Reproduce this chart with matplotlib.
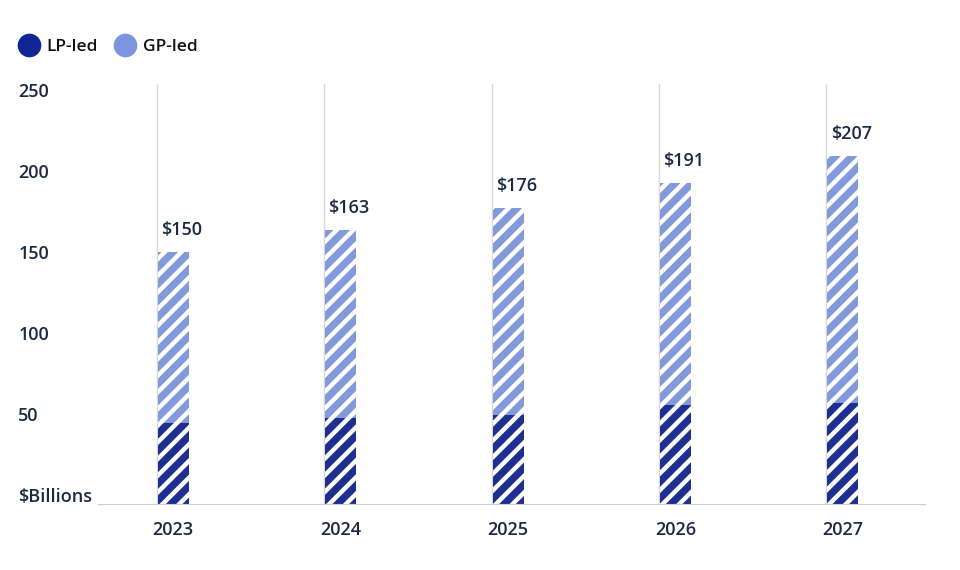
import matplotlib.pyplot as plt
from matplotlib.lines import Line2D
import matplotlib.transforms as mtransforms

plt.rcParams['font.family'] = ['Open Sans', 'DejaVu Sans']
plt.rcParams['hatch.linewidth'] = 3.2

years = ["2023", "2024", "2025", "2026", "2027"]
lp_led = [48, 51, 53, 59, 60]
gp_led = [102, 112, 123, 132, 147]
totals = [150, 163, 176, 191, 207]
yticks = [0, 50, 100, 150, 200, 250]
ytick_labels = ["$Billions", "50", "100", "150", "200", "250"]

dark = "#1f2f8f"
light = "#8299da"
text_col = "#1b2a42"

fig = plt.figure(figsize=(9.6, 5.7), dpi=100)
ax = fig.add_axes([0.102, 0.1158, 0.8615, 0.7368])

x = list(range(len(years)))
w = 0.185

ax.bar(x, lp_led, width=w, color=dark, edgecolor="white", linewidth=0, hatch="//")
ax.bar(x, gp_led, width=w, bottom=lp_led, color=light, edgecolor="white", linewidth=0, hatch="//")

# thin vertical guide lines at the bar left edges
for xi in x:
    ax.axvline(xi - w / 2 - 0.006, ymin=0, ymax=1, color="#d9d9d9", linewidth=1, zorder=0)

for xi, t in zip(x, totals):
    ax.text(xi - w / 2 + 0.02, t + 8, f"${t}", ha="left", va="bottom",
            fontsize=13, fontweight="semibold", color=text_col)

ax.set_xlim(-0.45, 4.49)
ax.set_ylim(0, 250)

for s in ["top", "right", "left"]:
    ax.spines[s].set_visible(False)
ax.spines["bottom"].set_color("#cccccc")

ax.set_yticks([])
ax.set_xticks(x)
ax.set_xticklabels(years, fontsize=13, fontweight="semibold", color=text_col)
ax.tick_params(axis="x", length=0, pad=12)

# y labels sit on a slightly compressed scale in the original
trans = mtransforms.blended_transform_factory(fig.transFigure, ax.transData)
for v, lab in zip(yticks, ytick_labels):
    ax.text(0.019, 4.2 + 0.964 * v, lab, transform=trans, ha="left", va="center",
            fontsize=13, fontweight="semibold", color=text_col)

handles = [
    Line2D([], [], marker="o", linestyle="", markersize=16, color="#0f2596"),
    Line2D([], [], marker="o", linestyle="", markersize=16, color="#7b95e0"),
]
leg = fig.legend(handles, ["LP-led", "GP-led"], loc="center left", bbox_to_anchor=(0.019, 0.9175),
                 ncol=2, frameon=False, borderpad=0, borderaxespad=0,
                 handlelength=1.2, handletextpad=0.43, columnspacing=0.95,
                 prop={"size": 12.5, "weight": "semibold"})
for t in leg.get_texts():
    t.set_color("#111111")

fig.savefig("out.png", dpi=100)
